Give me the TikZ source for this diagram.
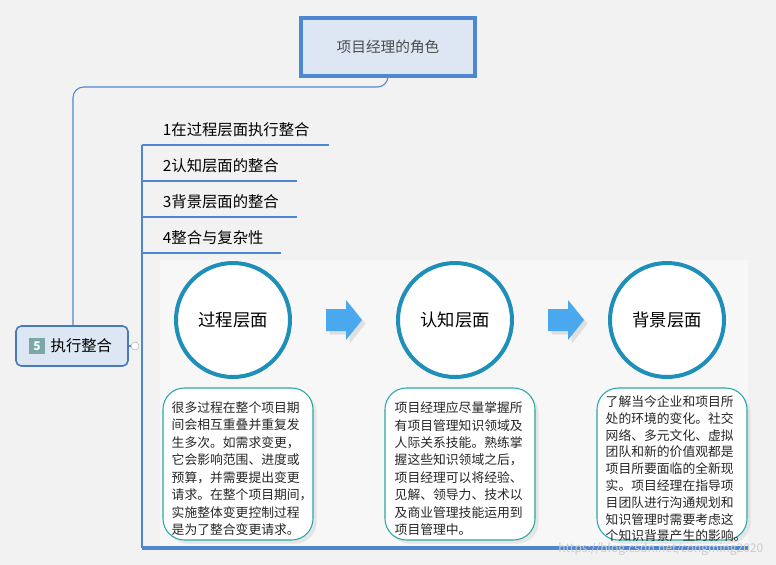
\documentclass[tikz,border=0pt]{standalone}
\usepackage{fontspec}
\setmainfont{Noto Sans CJK SC}
\usetikzlibrary{shapes.arrows,shadows}
\definecolor{bg}{HTML}{F2F2F2}
\definecolor{boxfill}{HTML}{DDE7F3}
\definecolor{blue1}{HTML}{4F86D0}
\definecolor{teal1}{HTML}{2AA8A8}
\definecolor{circ}{HTML}{1E8FB8}
\definecolor{arr}{HTML}{4AA8EE}
\tikzset{
 item/.style={anchor=south west,inner sep=2pt,font=\fontsize{11.5}{13}\selectfont},
 uline/.style={draw=blue1,line width=2.2pt},
 phase/.style={circle,draw=circ,line width=3pt,minimum size=114pt*0.75,fill=white,font=\fontsize{13}{15}\selectfont},
 desc/.style={rounded corners=16pt,draw=teal1,line width=0.8pt,fill=white,minimum width=150*0.75pt,minimum height=152*0.75pt,drop shadow={opacity=0.15}},
 desctext/.style={align=left,font=\fontsize{9.6}{13.1}\selectfont,text=black!85},
 big/.style={single arrow,fill=arr,minimum width=38*0.75pt,single arrow head extend=0pt,minimum height=36*0.75pt,inner sep=0pt,single arrow head indent=0pt}
}
\begin{document}
\begin{tikzpicture}[x=0.75pt,y=-0.75pt]
\useasboundingbox (0,0) rectangle (776,565);
\fill[bg] (0,0) rectangle (776,565);
\fill[white!97!black] (160,260) rectangle (748,548);
% top
\node[draw=blue1,line width=3pt,fill=boxfill,minimum width=174*0.75pt,minimum height=58*0.75pt,text=black!70,font=\fontsize{11}{13}\selectfont] (root) at (388,47) {项目经理的角色};
\node[draw=blue1!90!black,line width=1.2pt,fill=boxfill,rounded corners=4pt,minimum width=112*0.75pt,minimum height=40*0.75pt] (exec) at (72,346) {};
\node[fill=teal1!45!gray!80,text=white,inner sep=1.5pt,minimum size=12pt,font=\bfseries\fontsize{9}{10}\selectfont] (badge) at (37,346) {5};
\node[anchor=west,font=\fontsize{11.5}{13}\selectfont] (exectxt) at (46,346) {执行整合};
\draw[blue1,line width=0.8pt,rounded corners=8pt] (root.south) -- (388,87) -- (73,87) -- (exec.north -| 73,0);
\node[circle,draw=gray!60,inner sep=0pt,minimum size=6pt,fill=white] (knob) at (135,346) {};
\draw[blue1,line width=0.8pt] (exec.east) -- (knob);
\draw[blue1,line width=0.8pt] (142,145) -- (142,548);
% items
\node[item] (i1) at (160,140) {1在过程层面执行整合};
\node[item] (i2) at (160,176) {2认知层面的整合};
\node[item] (i3) at (160,212) {3背景层面的整合};
\node[item] (i4) at (160,248) {4整合与复杂性};
\draw[uline] (152,145) -- (329,145);
\draw[uline] (152,181) -- (297,181);
\draw[uline] (152,217) -- (297,217);
\draw[uline] (152,253) -- (281,253);
\draw[blue1,line width=0.8pt] (142,145) -- (152,145) (142,181)--(152,181) (142,217)--(152,217) (142,253)--(152,253);
\draw[blue1,line width=2.5pt] (142,548) -- (748,548);
% phases
\node[phase] (p1) at (233,320) {过程层面};
\node[phase] (p2) at (455,320) {认知层面};
\node[phase] (p3) at (667,320) {背景层面};
\coordinate (a1) at (326,320);
\coordinate (a2) at (548,320);
\foreach \a in {a1,a2}{
 \fill[arr,drop shadow={opacity=0.2}] ([shift={(0,-11)}]\a) -- ++(20,0) -- ++(0,-9) -- ++(16,20) -- ++(-16,20) -- ++(0,-9) -- ++(-20,0) -- cycle;
}
% descriptions
\node[desc] (d1) at (238,464) {};
\node[desc] (d2) at (460,464) {};
\node[desc] (d3) at (672,464) {};
\node[desctext,anchor=north west] (t1) at (167,397) {很多过程在整个项目期\\间会相互重叠并重复发\\生多次。如需求变更，\\它会影响范围、进度或\\预算，并需要提出变更\\请求。在整个项目期间，\\实施整体变更控制过程\\是为了整合变更请求。};
\node[desctext,anchor=north west] (t2) at (390,397) {项目经理应尽量掌握所\\有项目管理知识领域及\\人际关系技能。熟练掌\\握这些知识领域之后，\\项目经理可以将经验、\\见解、领导力、技术以\\及商业管理技能运用到\\项目管理中。};
\node[desctext,anchor=north west,font=\fontsize{9.6}{12.6}\selectfont] (t3) at (601,391) {了解当今企业和项目所\\处的环境的变化。社交\\网络、多元文化、虚拟\\团队和新的价值观都是\\项目所要面临的全新现\\实。项目经理在指导项\\目团队进行沟通规划和\\知识管理时需要考虑这\\个知识背景产生的影响。};
\node[anchor=north east,text=gray!40,font=\fontsize{9}{10}\selectfont] (wm) at (768,538) {https://blog.csdn.net/congming2020};
\end{tikzpicture}
\end{document}
